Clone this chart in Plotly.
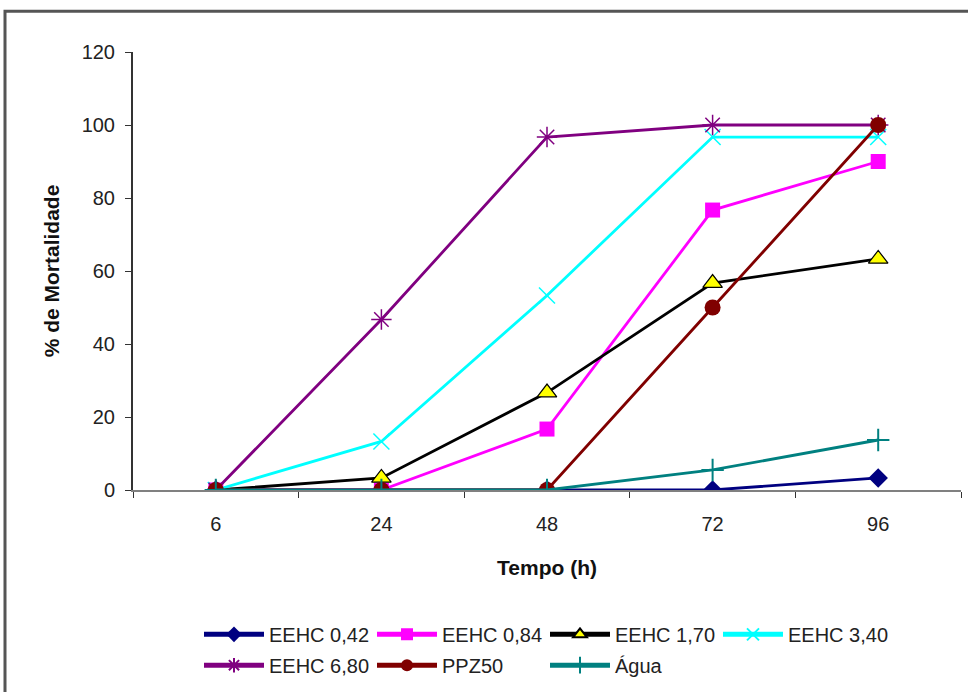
import plotly.graph_objects as go

categories = ["6", "24", "48", "72", "96"]
eehc_042 = [0, 0, 0, 0, 3.3]
eehc_084 = [0, 0, 16.7, 76.7, 90]
eehc_170 = [0, 3.3, 26.7, 56.7, 63.3]
eehc_340 = [0, 13.3, 53.3, 96.7, 96.7]
eehc_680 = [0, 46.7, 96.7, 100, 100]
ppz50 = [0, 0, 0, 50, 100]
agua = [0, 0, 0, 5.5, 13.7]

series = [
    ("EEHC 0,42", eehc_042, "#000080", dict(symbol="diamond", size=15, color="#000080"), "legend"),
    ("EEHC 0,84", eehc_084, "#FF00FF", dict(symbol="square", size=15, color="#FF00FF"), "legend"),
    ("EEHC 1,70", eehc_170, "#000000", dict(symbol="triangle-up", size=17, color="#FFFF00", line=dict(color="#000000", width=1.2)), "legend"),
    ("EEHC 3,40", eehc_340, "#00FFFF", dict(symbol="x-thin-open", size=16, color="#00FFFF", line=dict(color="#00FFFF", width=1.5)), "legend"),
    ("EEHC 6,80", eehc_680, "#800080", dict(symbol="asterisk-open", size=17, color="#800080", line=dict(color="#800080", width=1.5)), "legend2"),
    ("PPZ50", ppz50, "#800000", dict(symbol="circle", size=16, color="#800000"), "legend2"),
    ("Água", agua, "#008080", dict(symbol="cross-thin-open", size=16, color="#008080", line=dict(color="#008080", width=2)), "legend2"),
]

fig = go.Figure()
for name, vals, col, mk, lg in series:
    fig.add_trace(go.Scatter(x=categories, y=vals, name=name, mode="lines+markers",
                             line=dict(color=col, width=2.8), marker=mk, legend=lg))

FAM = "Liberation Sans, Arial, sans-serif"
tickfont = dict(family=FAM, size=20, color="#222222")
legfont = dict(family=FAM, size=20, color="#222222")
titlefont = dict(family=FAM, size=21, color="#111111")
legend_common = dict(orientation="h", xanchor="left", yanchor="middle", font=legfont,
                     entrywidth=98, entrywidthmode="pixels", itemwidth=60,
                     itemsizing="constant",
                     bgcolor="rgba(0,0,0,0)", tracegroupgap=0)

fig.update_layout(
    width=968, height=692,
    margin=dict(l=133, r=7, t=52, b=200),
    paper_bgcolor="white", plot_bgcolor="white",
    font=tickfont,
    showlegend=True,
    legend=dict(x=(199 - 133) / 828, y=(492 - 637) / 440, **legend_common),
    legend2=dict(x=(199 - 133) / 828, y=(492 - 668) / 440, **legend_common),
    xaxis=dict(type="category", range=[-0.5, 4.5], showgrid=False, zeroline=False,
               showline=True, linecolor="#808080", linewidth=2,
               ticks="outside", tickson="boundaries", ticklen=6, tickcolor="#333333",
               ticklabelstandoff=15,
               title=dict(text="<b>Tempo (h)</b>", font=titlefont, standoff=26),
               tickfont=tickfont),
    yaxis=dict(range=[0, 120], dtick=20, showgrid=False, zeroline=False,
               showline=True, linecolor="#333333", linewidth=2,
               ticks="outside", ticklen=6, tickcolor="#333333",
               ticklabelstandoff=6,
               title=dict(text="<b>% de Mortalidade</b>", font=titlefont, standoff=16),
               tickfont=tickfont),
    shapes=[dict(type="rect", xref="paper", yref="paper",
                 x0=(5 - 133) / 828, x1=(975 - 133) / 828,
                 y0=(492 - 700) / 440, y1=(492 - 11) / 440,
                 line=dict(color="#555555", width=3), fillcolor="rgba(0,0,0,0)", layer="below")],
)

fig.write_html("out.html")
